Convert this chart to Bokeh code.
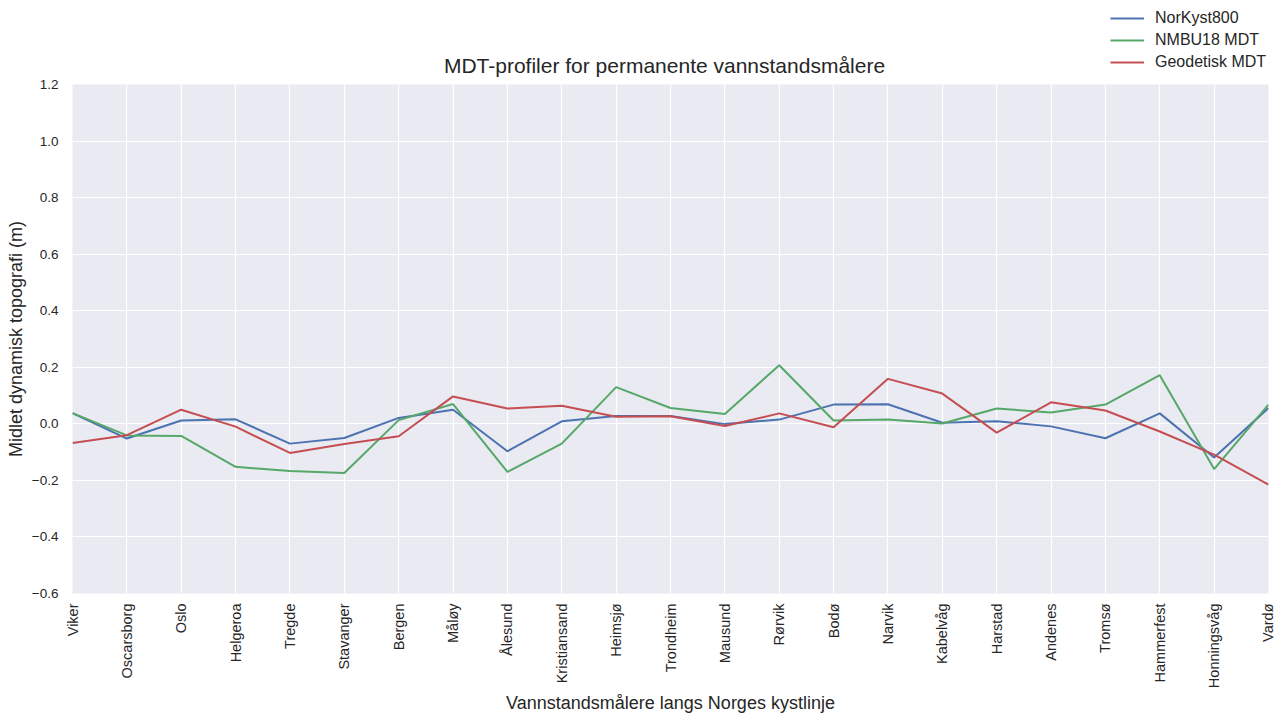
from bokeh.plotting import figure
from bokeh.layouts import column
from bokeh.models import (FixedTicker, CustomJSTickFormatter, Legend, LegendItem, Range1d, Label)
from bokeh.embed import file_html
from bokeh.resources import INLINE

stations = ["Viker", "Oscarsborg", "Oslo", "Helgeroa", "Tregde", "Stavanger", "Bergen",
            "Måløy", "Ålesund", "Kristiansand", "Heimsjø", "Trondheim", "Mausund", "Rørvik",
            "Bodø", "Narvik", "Kabelvåg", "Harstad", "Andenes", "Tromsø", "Hammerfest",
            "Honningsvåg", "Vardø"]

norkyst800 = [0.038, -0.052, 0.012, 0.016, -0.070, -0.050, 0.021, 0.050, -0.097, 0.009,
              0.028, 0.028, -0.001, 0.015, 0.068, 0.069, 0.004, 0.009, -0.009, -0.051,
              0.037, -0.119, 0.056]
nmbu18 = [0.038, -0.041, -0.043, -0.152, -0.167, -0.174, 0.013, 0.070, -0.170, -0.070,
          0.130, 0.056, 0.035, 0.207, 0.012, 0.015, 0.001, 0.054, 0.040, 0.068,
          0.172, -0.160, 0.068]
geodetisk = [-0.068, -0.040, 0.050, -0.010, -0.103, -0.071, -0.044, 0.097, 0.054, 0.064,
             0.025, 0.027, -0.008, 0.037, -0.012, 0.159, 0.107, -0.031, 0.076, 0.047,
             -0.027, -0.109, -0.215]

series_names = ["NorKyst800", "NMBU18 MDT", "Geodetisk MDT"]
series_colors = ["#4C72B0", "#55A868", "#C44E52"]
y_ticks = [-0.6, -0.4, -0.2, 0.0, 0.2, 0.4, 0.6, 0.8, 1.0, 1.2]
title_text = "MDT-profiler for permanente vannstandsmålere"

FONT = "Liberation Sans"
TXT = "#262626"
W = 1275
LEFT, RIGHT = 72, 7
TOP_H = 78
MAIN_H = 641

# ---- header strip: title + legend (outside the axes, as in matplotlib) ----
top = figure(width=W, height=TOP_H, output_backend="svg", toolbar_location=None,
             x_range=Range1d(LEFT, W - RIGHT), y_range=Range1d(0, TOP_H),
             x_axis_type=None, y_axis_type=None,
             min_border_left=LEFT, min_border_right=RIGHT, min_border_top=0, min_border_bottom=0)
top.outline_line_color = None
top.background_fill_color = "white"
top.border_fill_color = "white"

top.add_layout(Label(x=664, y=13, text=title_text, text_align="center", text_baseline="alphabetic",
                     text_font=FONT, text_font_size="21px", text_color=TXT))

nan = float("nan")
dummy = [top.line(x=[nan], y=[nan], line_color=c, line_width=2) for c in series_colors]
legend = Legend(items=[LegendItem(label=n, renderers=[r]) for n, r in zip(series_names, dummy)],
                location=(1110 - LEFT, 6), orientation="vertical",
                background_fill_alpha=0, border_line_alpha=0,
                label_text_font=FONT, label_text_font_size="16px", label_text_color=TXT,
                glyph_width=34, glyph_height=20, label_height=20, spacing=2,
                label_standoff=11, padding=0, margin=0)
top.add_layout(legend, "center")

# ---- main axes ----
x = list(range(len(stations)))

p = figure(width=W, height=MAIN_H, output_backend="svg", toolbar_location=None,
           x_range=Range1d(0, len(stations) - 1), y_range=Range1d(-0.6, 1.2),
           min_border_left=LEFT, min_border_right=RIGHT, min_border_top=6, min_border_bottom=126)

p.background_fill_color = "#EAEAF2"
p.border_fill_color = "white"
p.outline_line_color = None

for g in (p.xgrid, p.ygrid):
    g.grid_line_color = "white"
    g.grid_line_width = 1.2

for vals, c in zip([norkyst800, nmbu18, geodetisk], series_colors):
    p.line(x, vals, line_color=c, line_width=2)

p.xaxis.ticker = FixedTicker(ticks=x)
p.xaxis.major_label_overrides = {i: s for i, s in enumerate(stations)}
p.xaxis.major_label_orientation = 1.5707963267948966
p.yaxis.ticker = FixedTicker(ticks=y_ticks)
p.yaxis.formatter = CustomJSTickFormatter(code="return tick.toFixed(1).replace('-', '\u2212');")

for ax in (p.xaxis[0], p.yaxis[0]):
    ax.axis_line_color = None
    ax.major_tick_line_color = None
    ax.minor_tick_line_color = None
    ax.major_label_text_font = FONT
    ax.major_label_text_color = TXT
    ax.axis_label_text_font = FONT
    ax.axis_label_text_font_size = "18px"
    ax.axis_label_text_font_style = "normal"
    ax.axis_label_text_color = TXT

p.xaxis.major_label_text_font_size = "14.5px"
p.yaxis.major_label_text_font_size = "13.5px"
p.xaxis.axis_label = "Vannstandsmålere langs Norges kystlinje"
p.yaxis.axis_label = "Midlet dynamisk topografi (m)"
p.xaxis.major_label_standoff = 4
p.yaxis.major_label_standoff = 8
p.xaxis.axis_label_standoff = 2
p.yaxis.axis_label_standoff = 3

layout = column(top, p, spacing=0)
open("out.html", "w").write(file_html(layout, INLINE))
